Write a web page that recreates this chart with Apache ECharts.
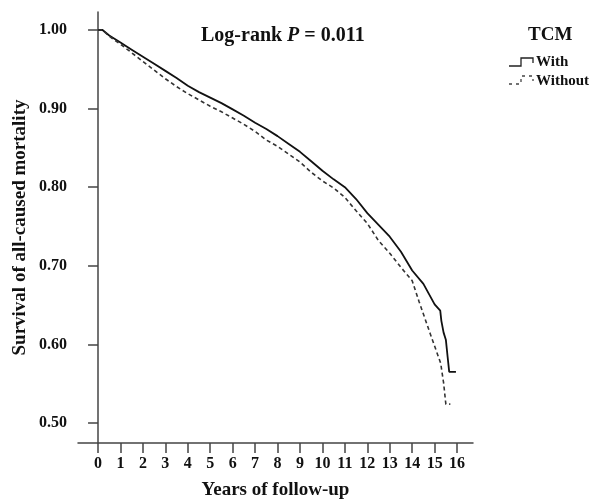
<!DOCTYPE html>
<html>
<head>
<meta charset="utf-8">
<script src="https://cdn.jsdelivr.net/npm/echarts@6/dist/echarts.min.js"></script>
<style>html,body{margin:0;padding:0;background:#fff;}#main{width:592px;height:502px;}</style>
</head>
<body>
<div id="main"></div>
<script>
const xTicks = [0,1,2,3,4,5,6,7,8,9,10,11,12,13,14,15,16];
const yTicks = [0.50,0.60,0.70,0.80,0.90,1.00];

const withTime = [0,0.2,0.5,1,1.5,2,2.5,3,3.5,4,4.5,5,5.5,6,6.5,7,7.5,8,8.5,9,9.5,10,10.5,11,11.5,12,12.5,13,13.5,14,14.5,15,15.25,15.3,15.4,15.5,15.58,15.65,15.95];
const withSurv = [1.000,1.000,0.993,0.984,0.975,0.966,0.957,0.948,0.939,0.929,0.921,0.914,0.907,0.899,0.891,0.882,0.874,0.865,0.855,0.845,0.833,0.821,0.810,0.800,0.785,0.767,0.752,0.737,0.718,0.694,0.677,0.651,0.643,0.630,0.615,0.606,0.584,0.565,0.565];

const withoutTime = [0,0.2,0.5,1,1.5,2,2.5,3,3.5,4,4.5,5,5.5,6,6.5,7,7.5,8,8.5,9,9.5,10,10.5,11,11.5,12,12.5,13,13.5,14,14.3,14.8,15.27,15.4,15.5,15.7];
const withoutSurv = [1.000,1.000,0.992,0.982,0.971,0.960,0.949,0.938,0.928,0.919,0.911,0.903,0.896,0.888,0.880,0.871,0.860,0.852,0.842,0.832,0.819,0.808,0.799,0.787,0.770,0.754,0.732,0.716,0.698,0.681,0.655,0.614,0.576,0.551,0.524,0.524];

const seriesNames = ['With','Without'];

const font = 'Liberation Serif';
const chart = echarts.init(document.getElementById('main'), null, {renderer:'canvas'});

function pairs(t, s){ return t.map((v,i)=>[v, s[i]]); }

const option = {
  animation: false,
  backgroundColor: '#fff',
  grid: { left: 78, right: 119, top: 12, bottom: 59, containLabel: false, outerBoundsMode: 'none' },
  xAxis: {
    type: 'value', min: -0.893, max: 16.71,
    name: 'Years of follow-up', nameLocation: 'middle', nameGap: 38,
    nameTextStyle: { fontFamily: font, fontWeight: 'bold', fontSize: 19, color: '#111' },
    axisLine: { lineStyle: { color: '#444', width: 1.5 } },
    axisTick: { customValues: xTicks, length: 10, lineStyle: { color: '#444', width: 1.5 } },
    axisLabel: { customValues: xTicks, margin: 13, fontFamily: font, fontWeight: 'bold', fontSize: 16, color: '#111' },
    splitLine: { show: false }
  },
  yAxis: {
    type: 'value', min: 0.4746, max: 1.0229,
    name: 'Survival of all-caused mortality', nameLocation: 'middle', nameGap: 48, nameMoveOverlap: false,
    nameTextStyle: { fontFamily: font, fontWeight: 'bold', fontSize: 19, color: '#111' },
    axisLine: { show: true, lineStyle: { color: '#444', width: 1.5 } },
    axisTick: { show: true, customValues: yTicks, length: 10, lineStyle: { color: '#444', width: 1.5 } },
    axisLabel: { customValues: yTicks, margin: 11, fontFamily: font, fontWeight: 'bold', fontSize: 16, color: '#111',
      formatter: v => v.toFixed(2) },
    splitLine: { show: false }
  },
  legend: {
    orient: 'vertical', left: 505, top: 55, padding: 0,
    itemWidth: 26, itemHeight: 14, itemGap: 4,
    textStyle: { fontFamily: font, fontWeight: 'bold', fontSize: 15, color: '#111' },
    data: seriesNames.map(n => ({ name: n, icon: 'rect', itemStyle: { opacity: 0 } })),
    selectedMode: false
  },
  series: [
    { name: seriesNames[0], type: 'line', data: pairs(withTime, withSurv), showSymbol: false, symbol: 'none',
      lineStyle: { color: '#111', width: 1.8, type: 'solid' }, itemStyle: { color: '#111' } },
    { name: seriesNames[1], type: 'line', data: pairs(withoutTime, withoutSurv), showSymbol: false, symbol: 'none',
      lineStyle: { color: '#333', width: 1.6, type: [4,3] }, itemStyle: { color: '#333' } }
  ],
  graphic: [
    { type: 'text', left: 201, top: 26,
      style: { text: '{b|Log-rank }{i|P}{b| = 0.011}',
        rich: {
          b: { fontFamily: font, fontWeight: 'bold', fontSize: 20, fill: '#111' },
          i: { fontFamily: font, fontWeight: 'bold', fontStyle: 'italic', fontSize: 20, fill: '#111' }
        } } },
    { type: 'text', left: 528, top: 26,
      style: { text: 'TCM', fontFamily: font, fontWeight: 'bold', fontSize: 19, fill: '#111' } },
    { type: 'polyline', shape: { points: [[509,66],[521,66],[521,58],[533,58],[533,63]] },
      style: { stroke: '#222', lineWidth: 1.3, fill: null } },
    { type: 'polyline', shape: { points: [[509,84],[521,84],[521,76],[533,76],[533,81]] },
      style: { stroke: '#444', lineWidth: 1.3, fill: null, lineDash: [3,4] } }
  ]
};
chart.setOption(option);
</script>
</body>
</html>
